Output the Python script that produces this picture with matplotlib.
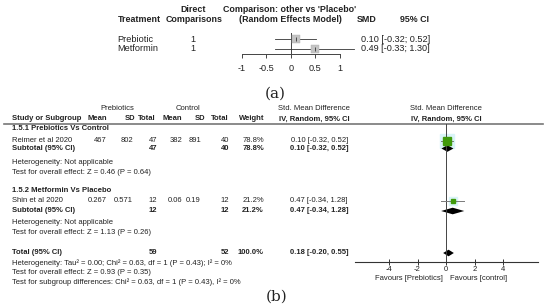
import matplotlib
matplotlib.use("Agg")
import matplotlib.pyplot as plt

plt.rcParams['font.family'] = ['Liberation Sans', 'DejaVu Sans']
plt.rcParams['axes.unicode_minus'] = False

# ---- panel (a): network comparison vs placebo ----
top_treatments = ["Prebiotic", "Metformin"]
top_direct = [1, 1]
top_smd = [0.10, 0.49]
top_lo = [-0.32, -0.33]
top_hi = [0.52, 1.30]
top_ticks = [-1, -0.5, 0, 0.5, 1]
top_ticklabels = ["-1", "-0.5", "0", "0.5", "1"]

# ---- panel (b): RevMan forest plot ----
groups = ["1.5.1 Prebiotics Vs Control", "1.5.2 Metformin Vs Placebo"]
studies = ["Reimer et al 2020", "Shin et al 2020"]
pre_mean = ["467", "0.267"]
pre_sd = ["802", "0.571"]
pre_n = [47, 12]
ctl_mean = ["382", "0.06"]
ctl_sd = ["891", "0.19"]
ctl_n = [40, 12]
weights = [78.8, 21.2]
smd = [0.10, 0.47]
smd_lo = [-0.32, -0.34]
smd_hi = [0.52, 1.28]
overall_z = ["Z = 0.46 (P = 0.64)", "Z = 1.13 (P = 0.26)"]
total_smd, total_lo, total_hi = 0.18, -0.20, 0.55
total_z = "Z = 0.93 (P = 0.35)"
bottom_ticks = [-4, -2, 0, 2, 4]

W, H = 550, 306
fig = plt.figure(figsize=(W / 100, H / 100), dpi=100)
bg = fig.add_axes([0, 0, 1, 1])
bg.set_xlim(0, W)
bg.set_ylim(H, 0)
bg.axis('off')

TXT = '#222222'


def px_axes(x0, y0, x1, y1):
    return fig.add_axes([x0 / W, 1 - y1 / H, (x1 - x0) / W, (y1 - y0) / H])


def t(x, y, s, ha='left', size=5.5, bold=False, **kw):
    bg.text(x, y, s, ha=ha, va='center', fontsize=size,
            fontweight='bold' if bold else 'normal', color=kw.pop('color', TXT), **kw)


# ================= (a) =================
fa = 6.6
fah = 6.4
t(193, 9, "Direct", 'center', fah, True)
t(161, 19, "Treatment", 'right', fah, True)
t(194, 19, "Comparisons", 'center', fah, True)
t(290, 9, "Comparison: other vs 'Placebo'", 'center', fah, True)
t(290, 19, "(Random Effects Model)", 'center', fah, True)
t(367, 19, "SMD", 'center', fah, True)
t(415, 19, "95% CI", 'center', fah, True)

top_rows_y = [39, 48.7]
for i, name in enumerate(top_treatments):
    y = top_rows_y[i]
    t(117, y, name, 'left', fa)
    t(193, y, str(top_direct[i]), 'center', fa)
    t(361, y, f"{top_smd[i]:.2f} [{top_lo[i]:.2f}; {top_hi[i]:.2f}]", 'left', fa)

zero_a, unit_a = 290.7, 48.9
ax_a = px_axes(232, 30, 360, 54)
ax_a.set_xlim((232 - zero_a) / unit_a, (360 - zero_a) / unit_a)
ax_a.set_ylim(54, 30)
ax_a.patch.set_alpha(0)
for s in ['top', 'left', 'right']:
    ax_a.spines[s].set_visible(False)
ax_a.spines['bottom'].set_bounds(-1, 1)
ax_a.spines['bottom'].set_linewidth(0.7)
ax_a.spines['bottom'].set_color('#444444')
ax_a.set_yticks([])
ax_a.set_xticks(top_ticks)
ax_a.set_xticklabels(top_ticklabels)
ax_a.tick_params(axis='x', direction='out', length=3, width=0.7, colors='#444444',
                 labelsize=fa, labelcolor=TXT, pad=4.5)
ax_a.plot([0, 0], [33, 54], color='#444444', lw=0.7, clip_on=False)
for i in range(len(top_treatments)):
    y = top_rows_y[i]
    ax_a.plot([top_lo[i], top_hi[i]], [y, y], color='#333333', lw=0.6, clip_on=False)
    ax_a.plot(top_smd[i], y, marker='s', ms=6, color='#c4c4c4', mec='#b0b0b0', mew=0.3,
              clip_on=False)
    ax_a.plot(top_smd[i], y, marker='|', ms=2.5, color='#333333', mew=0.6, clip_on=False)

bg.text(275, 94, "(a)", ha='center', va='center', fontsize=11, family='DejaVu Serif',
        color=TXT)

# ================= (b) =================
fb = 5.5
t(117, 109, "Prebiotics", 'center', fb)
t(188, 109, "Control", 'center', fb)
t(314, 109, "Std. Mean Difference", 'center', fb)
t(446, 109, "Std. Mean Difference", 'center', fb)

hy = 119
t(12, hy, "Study or Subgroup", 'left', fb, True)
t(107, hy, "Mean", 'right', fb, True)
t(135, hy, "SD", 'right', fb, True)
t(156, hy, "Total", 'right', fb, True)
t(182, hy, "Mean", 'right', fb, True)
t(205, hy, "SD", 'right', fb, True)
t(229, hy, "Total", 'right', fb, True)
t(264, hy, "Weight", 'right', fb, True)
t(314, hy, "IV, Random, 95% CI", 'center', fb, True)
t(446, hy, "IV, Random, 95% CI", 'center', fb, True)
bg.plot([4, 543], [124, 124], color='#777777', lw=1.2)

group_y = [128, 190]
study_y = [141, 201]
sub_y = [148.5, 211]
het_y = [162, 223]
eff_y = [172, 233]

zero_b, unit_b = 446, 14.25
ax_b = px_axes(355, 124, 538, 262)
ax_b.set_xlim((355 - zero_b) / unit_b, (538 - zero_b) / unit_b)
ax_b.set_ylim(262, 124)
ax_b.patch.set_alpha(0)
for s in ['top', 'left', 'right']:
    ax_b.spines[s].set_visible(False)
ax_b.spines['bottom'].set_linewidth(0.8)
ax_b.spines['bottom'].set_color('#333333')
ax_b.set_yticks([])
ax_b.set_xticks(bottom_ticks)
ax_b.tick_params(axis='x', direction='inout', length=4, width=0.7, colors='#333333',
                 labelsize=fb, labelcolor=TXT, pad=1)
ax_b.axvline(0, color='#444444', lw=0.7)


def diamond(est, lo, hi, y, h=3.3):
    ax_b.fill([lo, est, hi, est], [y, y - h, y, y + h], color='black', lw=0, clip_on=False)


halo_ms = [10, 6]
box_ms = [6, 2.5]
for i in range(len(studies)):
    t(12, group_y[i], groups[i], 'left', fb, True)
    y = study_y[i]
    t(12, y, studies[i], 'left', fb)
    t(107, y, pre_mean[i], 'right', fb)
    t(133, y, pre_sd[i], 'right', fb)
    t(157, y, str(pre_n[i]), 'right', fb)
    t(182, y, ctl_mean[i], 'right', fb)
    t(201, y, ctl_sd[i], 'right', fb)
    t(229, y, str(ctl_n[i]), 'right', fb)
    t(264, y, f"{weights[i]:.1f}%", 'right', fb)
    t(348, y, f"{smd[i]:.2f} [{smd_lo[i]:.2f}, {smd_hi[i]:.2f}]", 'right', fb)

    ys = sub_y[i]
    t(12, ys, "Subtotal (95% CI)", 'left', fb, True)
    t(157, ys, str(pre_n[i]), 'right', fb, True)
    t(229, ys, str(ctl_n[i]), 'right', fb, True)
    t(264, ys, f"{weights[i]:.1f}%", 'right', fb, True)
    t(348, ys, f"{smd[i]:.2f} [{smd_lo[i]:.2f}, {smd_hi[i]:.2f}]", 'right', fb, True)
    t(12, het_y[i], "Heterogeneity: Not applicable", 'left', fb)
    t(12, eff_y[i], "Test for overall effect: " + overall_z[i], 'left', fb)

    ax_b.plot(smd[i], y, marker='s', ms=halo_ms[i], color='#d9f4f7', lw=0, zorder=1)
    ax_b.plot([smd_lo[i], smd_hi[i]], [y, y], color='#7a7a7a', lw=0.7, zorder=2)
    ax_b.plot(smd[i], y, marker='s', ms=box_ms[i], color='#3f9a0a', lw=0, zorder=3)
    diamond(smd[i], smd_lo[i], smd_hi[i], ys)

ty = 253
t(12, ty, "Total (95% CI)", 'left', fb, True)
t(157, ty, str(sum(pre_n)), 'right', fb, True)
t(229, ty, str(sum(ctl_n)), 'right', fb, True)
t(264, ty, f"{sum(weights):.1f}%", 'right', fb, True)
t(348, ty, f"{total_smd:.2f} [{total_lo:.2f}, {total_hi:.2f}]", 'right', fb, True)
diamond(total_smd, total_lo, total_hi, ty)
t(12, 263, "Heterogeneity: Tau\u00b2 = 0.00; Chi\u00b2 = 0.63, df = 1 (P = 0.43); I\u00b2 = 0%", 'left', fb)
t(12, 272.5, "Test for overall effect: " + total_z, 'left', fb)
t(12, 282, "Test for subgroup differences: Chi\u00b2 = 0.63, df = 1 (P = 0.43), I\u00b2 = 0%", 'left', fb)

t(443, 278, "Favours [Prebiotics]", 'right', fb)
t(450, 278, "Favours [control]", 'left', fb)

bg.text(277, 297, "(b)", ha='center', va='center', fontsize=11, family='DejaVu Serif',
        color=TXT)

fig.savefig("out.png", dpi=100)
